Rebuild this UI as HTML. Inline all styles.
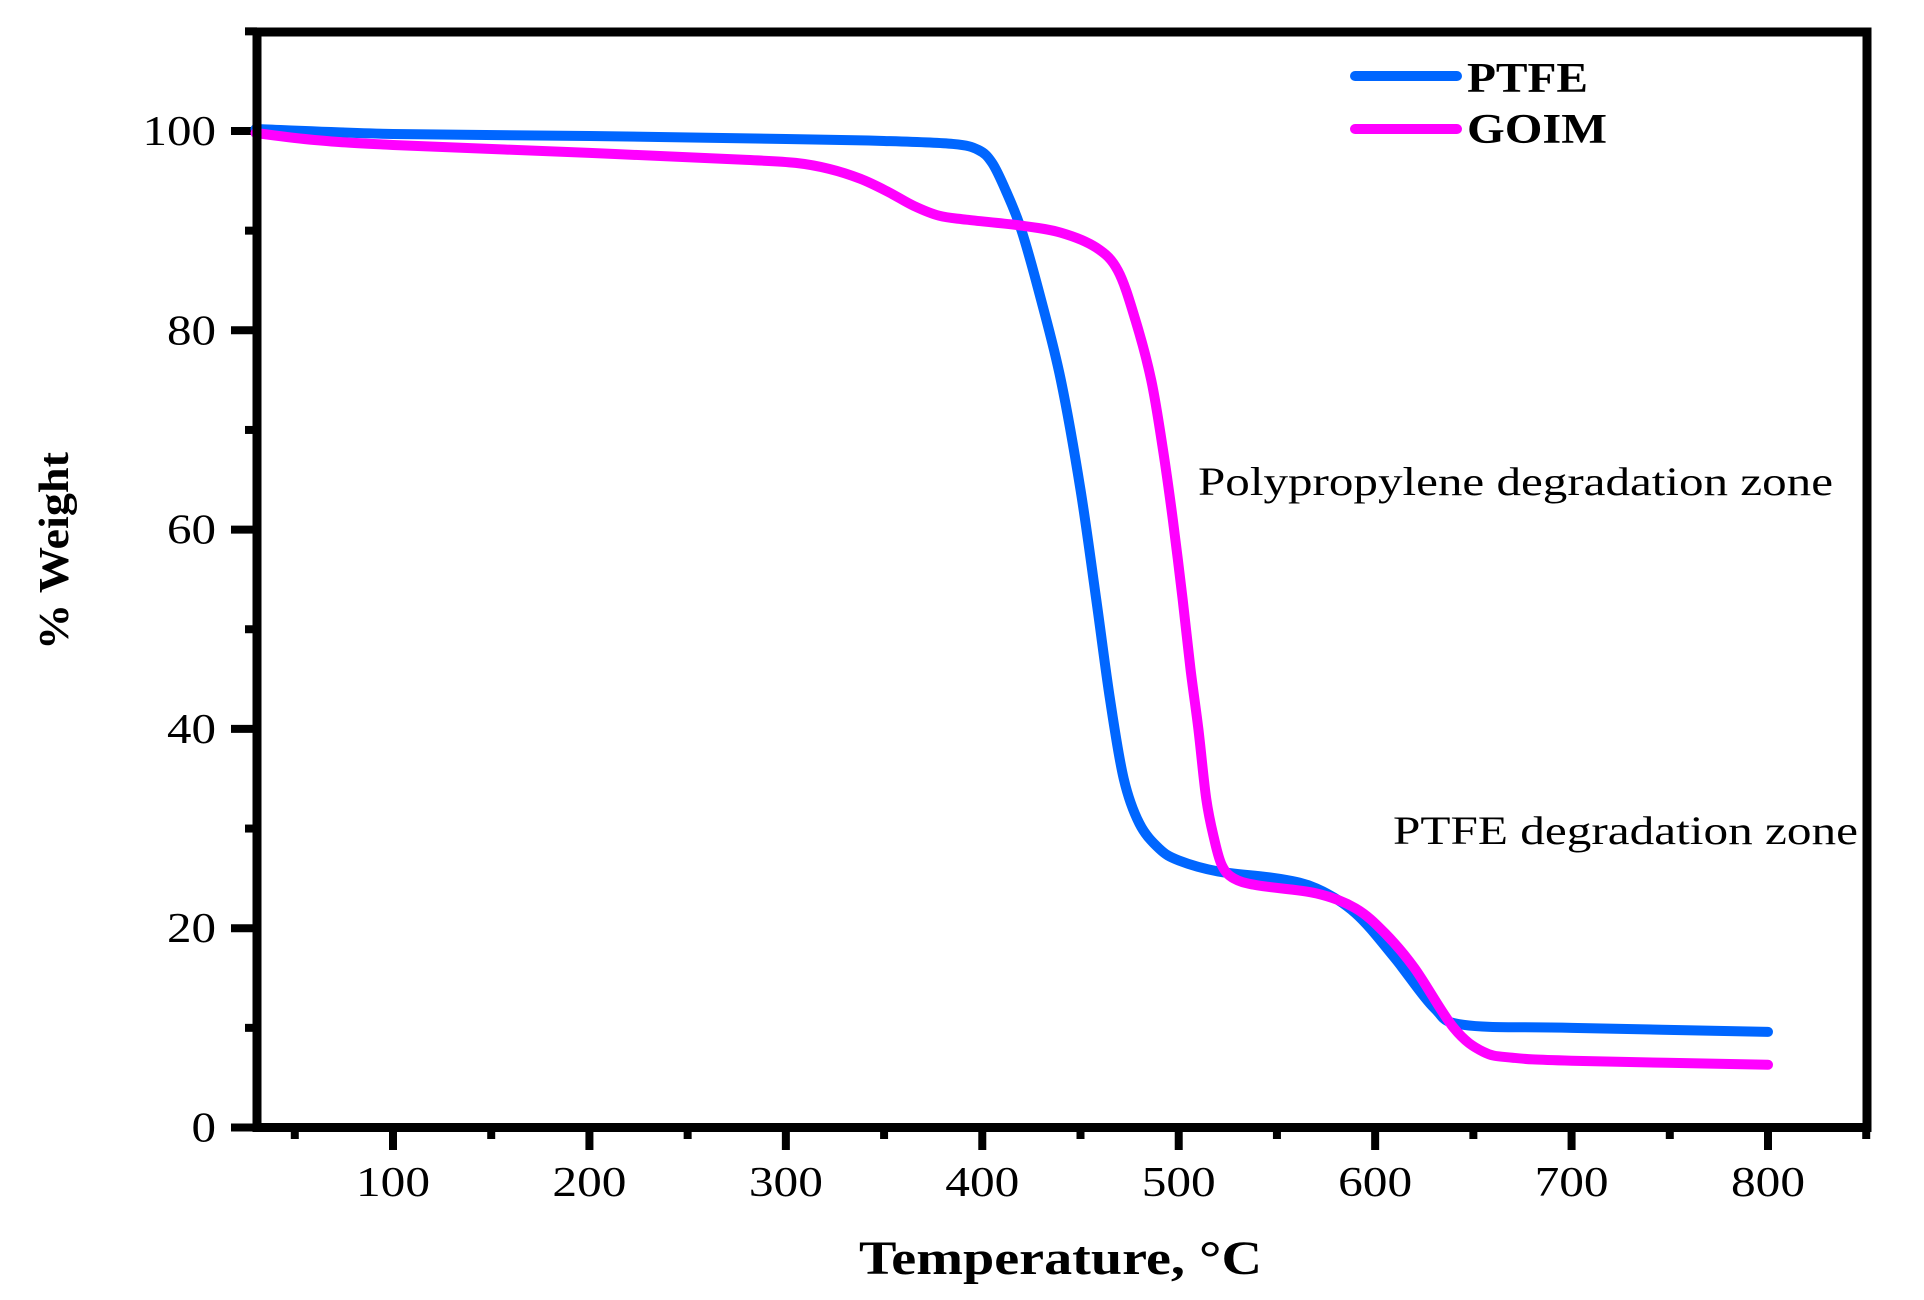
<!DOCTYPE html>
<html><head><meta charset="utf-8"><style>html,body{margin:0;padding:0;background:#fff;}svg{display:block}</style></head>
<body>
<svg id="s" width="1924" height="1300" xmlns="http://www.w3.org/2000/svg" font-family="Liberation Serif, serif">
<g id="ticks" stroke="#000" stroke-width="8"></g>
<path id="ptfe" fill="none" stroke="#0066ff" stroke-width="10" stroke-linecap="round" stroke-linejoin="round"/>
<path id="goim" fill="none" stroke="#ff00ff" stroke-width="10" stroke-linecap="round" stroke-linejoin="round"/>
<rect x="257" y="32" width="1610" height="1095.5" fill="none" stroke="#000" stroke-width="9"/>
<g font-size="42" text-anchor="end" id="ylab"></g>
<g font-size="42" text-anchor="middle" id="xlab"></g>
<line x1="1355" y1="76" x2="1457" y2="76" stroke="#0066ff" stroke-width="10" stroke-linecap="round"/>
<line x1="1355" y1="129" x2="1457" y2="129" stroke="#ff00ff" stroke-width="10" stroke-linecap="round"/>
<text x="1467" y="92" font-size="42" font-weight="bold" textLength="121" lengthAdjust="spacingAndGlyphs">PTFE</text>
<text x="1467" y="143" font-size="42" font-weight="bold" textLength="140" lengthAdjust="spacingAndGlyphs">GOIM</text>
<text x="1198" y="495" font-size="40" textLength="635" lengthAdjust="spacingAndGlyphs">Polypropylene degradation zone</text>
<text x="1393" y="844" font-size="40" textLength="465" lengthAdjust="spacingAndGlyphs">PTFE degradation zone</text>
<text x="859" y="1274" font-size="48" font-weight="bold" textLength="403" lengthAdjust="spacingAndGlyphs">Temperature, °C</text>
<text transform="translate(68,650) rotate(-90)" font-size="42" font-weight="bold" textLength="198" lengthAdjust="spacingAndGlyphs">% Weight</text>
</svg>
<script>
var X=function(t){return 393+(t-100)*1.9643;},Y=function(w){return 1127.5-w*9.965;};
var NS="http://www.w3.org/2000/svg";
function el(p,n,a,txt){var e=document.createElementNS(NS,n);for(var k in a)e.setAttribute(k,a[k]);if(txt!=null)e.textContent=txt;document.getElementById(p).appendChild(e);}
for(var t=50;t<=850;t+=50){var maj=t%100==0;el("ticks","line",{x1:X(t),y1:1127,x2:X(t),y2:maj?1150:1139});}
for(var t=100;t<=800;t+=100)el("xlab","text",{x:X(t),y:1196,textLength:74,lengthAdjust:"spacingAndGlyphs"},t);
for(var w=0;w<=110;w+=10){var maj=w%20==0;el("ticks","line",{x1:257,y1:Y(w),x2:maj?231:245,y2:Y(w)});}
for(var w=0;w<=100;w+=20){var s=String(w);el("ylab","text",{x:216,y:Y(w)+14,textLength:s.length*24.5,lengthAdjust:"spacingAndGlyphs"},s);}
function path(d){var p=d.map(function(a){return [X(a[0]),Y(a[1])];});var s="M"+p[0][0]+","+p[0][1];
for(var i=0;i<p.length-1;i++){var p0=p[Math.max(0,i-1)],p1=p[i],p2=p[i+1],p3=p[Math.min(p.length-1,i+2)];
var c1=[p1[0]+(p2[0]-p0[0])/6,p1[1]+(p2[1]-p0[1])/6],c2=[p2[0]-(p3[0]-p1[0])/6,p2[1]-(p3[1]-p1[1])/6];
s+=" C"+c1[0]+","+c1[1]+" "+c2[0]+","+c2[1]+" "+p2[0]+","+p2[1];}return s;}
var ptfe=[[30,100.2],[100,99.7],[200,99.5],[300,99.2],[350,99.0],[385,98.7],[398,98.1],[405,96.8],[412,94],[420,90],[430,83],[440,75],[450,64],[458,53],[465,43],[472,35],[480,30.5],[490,28],[500,26.8],[520,25.7],[550,25],[570,24],[590,21.5],[610,17],[630,12],[645,10.3],[700,10],[800,9.6]];
var goim=[[30,99.8],[60,99.1],[100,98.6],[200,97.8],[280,97.1],[305,96.8],[322,96.2],[338,95.2],[352,93.9],[365,92.5],[378,91.5],[392,91.1],[420,90.5],[440,89.8],[458,88.3],[469,86],[478,81],[486,75],[492,68],[497,61],[502,53],[506,46],[510,40],[514,33],[518,29],[522,26.3],[528,25],[540,24.3],[570,23.5],[590,22],[605,19.5],[620,16],[640,10],[655,7.6],[670,7],[700,6.7],[800,6.3]];
document.getElementById("ptfe").setAttribute("d",path(ptfe));
document.getElementById("goim").setAttribute("d",path(goim));
</script>
</body></html>
